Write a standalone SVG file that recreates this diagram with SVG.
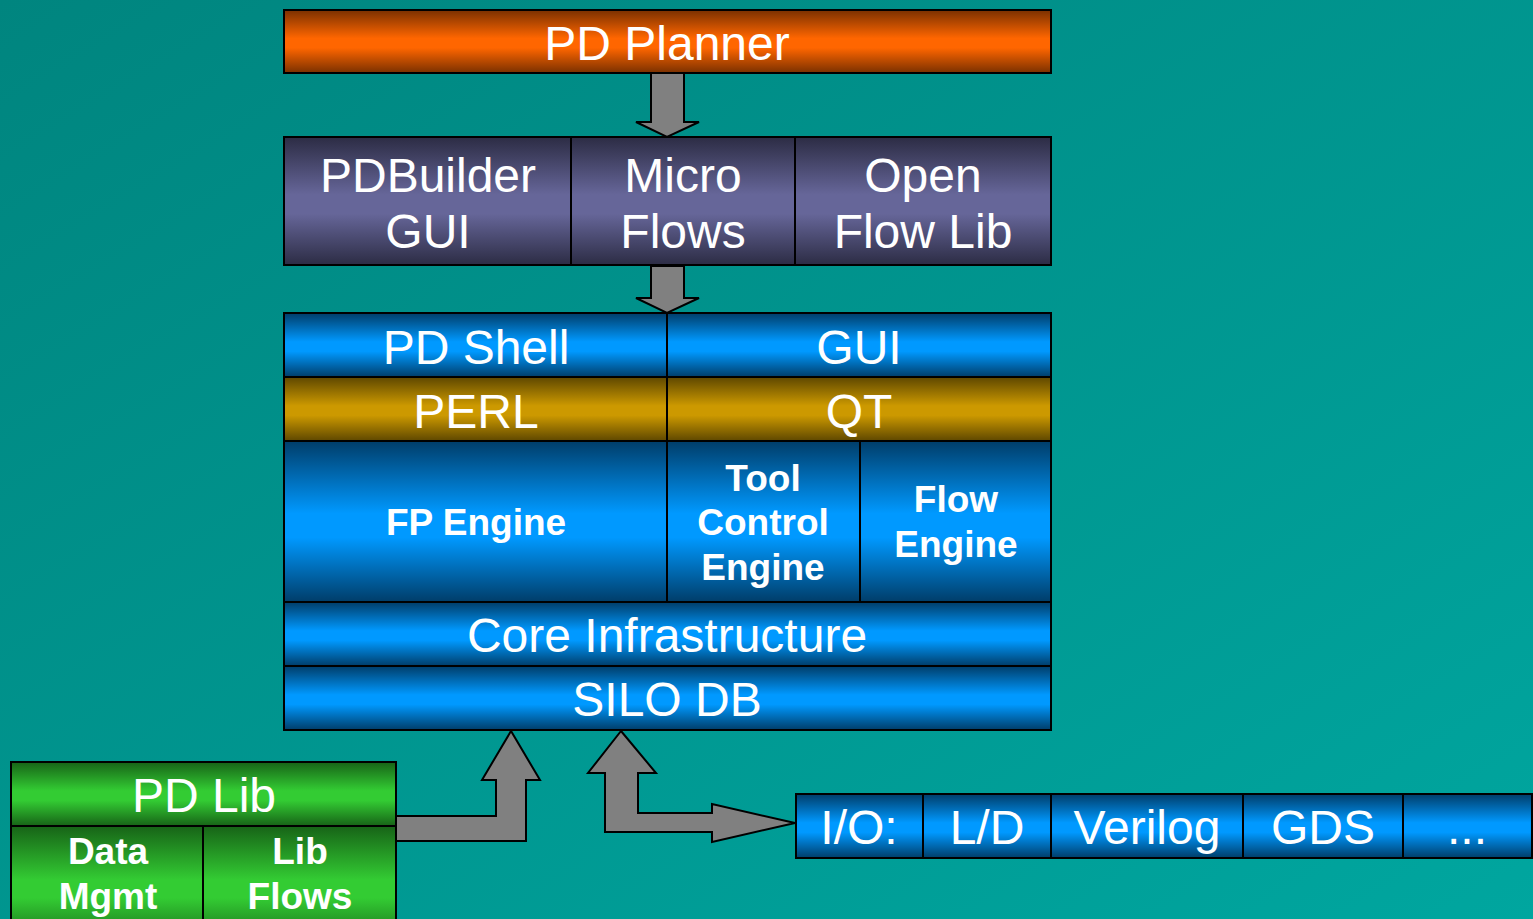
<svg xmlns="http://www.w3.org/2000/svg" width="1533" height="919" viewBox="0 0 1533 919">
  <style>
    .box { stroke: #000; stroke-width: 2; }
    .t { font-family: "Liberation Sans", Arial, sans-serif; fill: #fff; text-anchor: middle; font-size: 48px; }
    .b { font-weight: bold; font-size: 37px; }
    .arrow { fill: #808080; stroke: #000; stroke-width: 2; stroke-linejoin: miter; }
  </style>
  <defs>
    <linearGradient id="bg" x1="0" y1="0" x2="1" y2="1">
      <stop offset="0" stop-color="#00857f"/>
      <stop offset="1" stop-color="#00a69f"/>
    </linearGradient>
    <linearGradient id="gOrange" x1="0" y1="0" x2="0" y2="1">
      <stop offset="0" stop-color="#7a3000"/>
      <stop offset="0.45" stop-color="#ff6600"/>
      <stop offset="0.6" stop-color="#ff6600"/>
      <stop offset="1" stop-color="#7a3000"/>
    </linearGradient>
    <linearGradient id="gPurple" x1="0" y1="0" x2="0" y2="1">
      <stop offset="0" stop-color="#2c2c44"/>
      <stop offset="0.45" stop-color="#666699"/>
      <stop offset="0.6" stop-color="#666699"/>
      <stop offset="1" stop-color="#2c2c44"/>
    </linearGradient>
    <linearGradient id="gBlue" x1="0" y1="0" x2="0" y2="1">
      <stop offset="0" stop-color="#003d69"/>
      <stop offset="0.45" stop-color="#0099ff"/>
      <stop offset="0.6" stop-color="#0099ff"/>
      <stop offset="1" stop-color="#003d69"/>
    </linearGradient>
    <linearGradient id="gGold" x1="0" y1="0" x2="0" y2="1">
      <stop offset="0" stop-color="#5e4700"/>
      <stop offset="0.45" stop-color="#cc9900"/>
      <stop offset="0.6" stop-color="#cc9900"/>
      <stop offset="1" stop-color="#5e4700"/>
    </linearGradient>
    <linearGradient id="gGreen" x1="0" y1="0" x2="0" y2="1">
      <stop offset="0" stop-color="#176317"/>
      <stop offset="0.45" stop-color="#33cc33"/>
      <stop offset="0.6" stop-color="#33cc33"/>
      <stop offset="1" stop-color="#176317"/>
    </linearGradient>
  </defs>

  <rect x="0" y="0" width="1533" height="919" fill="url(#bg)"/>

  <!-- connectors -->
  <g id="connectors">
    <polygon class="arrow" points="651,73 684,73 684,122 699,122 667,137 636,122 651,122"/>
    <polygon class="arrow" points="651,266 684,266 684,298 699,298 667,313 636,298 651,298"/>
    <polygon class="arrow" points="396,816 496,816 496,780 482,780 511,731 540,780 526,780 526,841 396,841"/>
    <polygon class="arrow" points="621,731 656,773 638,773 638,813 712,813 712,804 795,823 712,842 712,832 605,832 605,773 588,773"/>
  </g>

  <!-- top planner -->
  <g id="pd-planner">
    <rect class="box" x="284" y="10" width="767" height="63" fill="url(#gOrange)"/>
    <text class="t" x="667" y="60">PD Planner</text>
  </g>

  <!-- builder row -->
  <g id="pdbuilder-gui">
    <rect class="box" x="284" y="137" width="287" height="128" fill="url(#gPurple)"/>
    <text class="t" x="428" y="192">PDBuilder</text>
    <text class="t" x="428" y="248">GUI</text>
  </g>
  <g id="micro-flows">
    <rect class="box" x="571" y="137" width="224" height="128" fill="url(#gPurple)"/>
    <text class="t" x="683" y="192">Micro</text>
    <text class="t" x="683" y="248">Flows</text>
  </g>
  <g id="open-flow-lib">
    <rect class="box" x="795" y="137" width="256" height="128" fill="url(#gPurple)"/>
    <text class="t" x="923" y="192">Open</text>
    <text class="t" x="923" y="248">Flow Lib</text>
  </g>

  <!-- shell / gui -->
  <g id="pd-shell">
    <rect class="box" x="284" y="313" width="383" height="64" fill="url(#gBlue)"/>
    <text class="t" x="476" y="364">PD Shell</text>
  </g>
  <g id="gui">
    <rect class="box" x="667" y="313" width="384" height="64" fill="url(#gBlue)"/>
    <text class="t" x="859" y="364">GUI</text>
  </g>

  <!-- perl / qt -->
  <g id="perl">
    <rect class="box" x="284" y="377" width="383" height="64" fill="url(#gGold)"/>
    <text class="t" x="476" y="428">PERL</text>
  </g>
  <g id="qt">
    <rect class="box" x="667" y="377" width="384" height="64" fill="url(#gGold)"/>
    <text class="t" x="859" y="428">QT</text>
  </g>

  <!-- engines -->
  <g id="fp-engine">
    <rect class="box" x="284" y="441" width="383" height="161" fill="url(#gBlue)"/>
    <text class="t b" x="476" y="535">FP Engine</text>
  </g>
  <g id="tool-control-engine">
    <rect class="box" x="667" y="441" width="193" height="161" fill="url(#gBlue)"/>
    <text class="t b" x="763" y="491">Tool</text>
    <text class="t b" x="763" y="535">Control</text>
    <text class="t b" x="763" y="580">Engine</text>
  </g>
  <g id="flow-engine">
    <rect class="box" x="860" y="441" width="191" height="161" fill="url(#gBlue)"/>
    <text class="t b" x="956" y="512">Flow</text>
    <text class="t b" x="956" y="557">Engine</text>
  </g>

  <g id="core-infrastructure">
    <rect class="box" x="284" y="602" width="767" height="64" fill="url(#gBlue)"/>
    <text class="t" x="667" y="652">Core Infrastructure</text>
  </g>
  <g id="silo-db">
    <rect class="box" x="284" y="666" width="767" height="64" fill="url(#gBlue)"/>
    <text class="t" x="667" y="716">SILO DB</text>
  </g>

  <!-- library block -->
  <g id="pd-lib">
    <rect class="box" x="11" y="762" width="385" height="64" fill="url(#gGreen)"/>
    <text class="t" x="204" y="812">PD Lib</text>
  </g>
  <g id="data-mgmt">
    <rect class="box" x="11" y="826" width="192" height="120" fill="url(#gGreen)"/>
    <text class="t b" x="108" y="864">Data</text>
    <text class="t b" x="108" y="909">Mgmt</text>
  </g>
  <g id="lib-flows">
    <rect class="box" x="203" y="826" width="193" height="120" fill="url(#gGreen)"/>
    <text class="t b" x="300" y="864">Lib</text>
    <text class="t b" x="300" y="909">Flows</text>
  </g>

  <!-- I/O formats -->
  <g id="io">
    <rect class="box" x="796" y="794" width="127" height="64" fill="url(#gBlue)"/>
    <text class="t" x="859" y="844">I/O:</text>
  </g>
  <g id="ld">
    <rect class="box" x="923" y="794" width="128" height="64" fill="url(#gBlue)"/>
    <text class="t" x="987" y="844">L/D</text>
  </g>
  <g id="verilog">
    <rect class="box" x="1051" y="794" width="192" height="64" fill="url(#gBlue)"/>
    <text class="t" x="1147" y="844">Verilog</text>
  </g>
  <g id="gds">
    <rect class="box" x="1243" y="794" width="160" height="64" fill="url(#gBlue)"/>
    <text class="t" x="1323" y="844">GDS</text>
  </g>
  <g id="more">
    <rect class="box" x="1403" y="794" width="129" height="64" fill="url(#gBlue)"/>
    <text class="t" x="1467" y="844">...</text>
  </g>
</svg>
